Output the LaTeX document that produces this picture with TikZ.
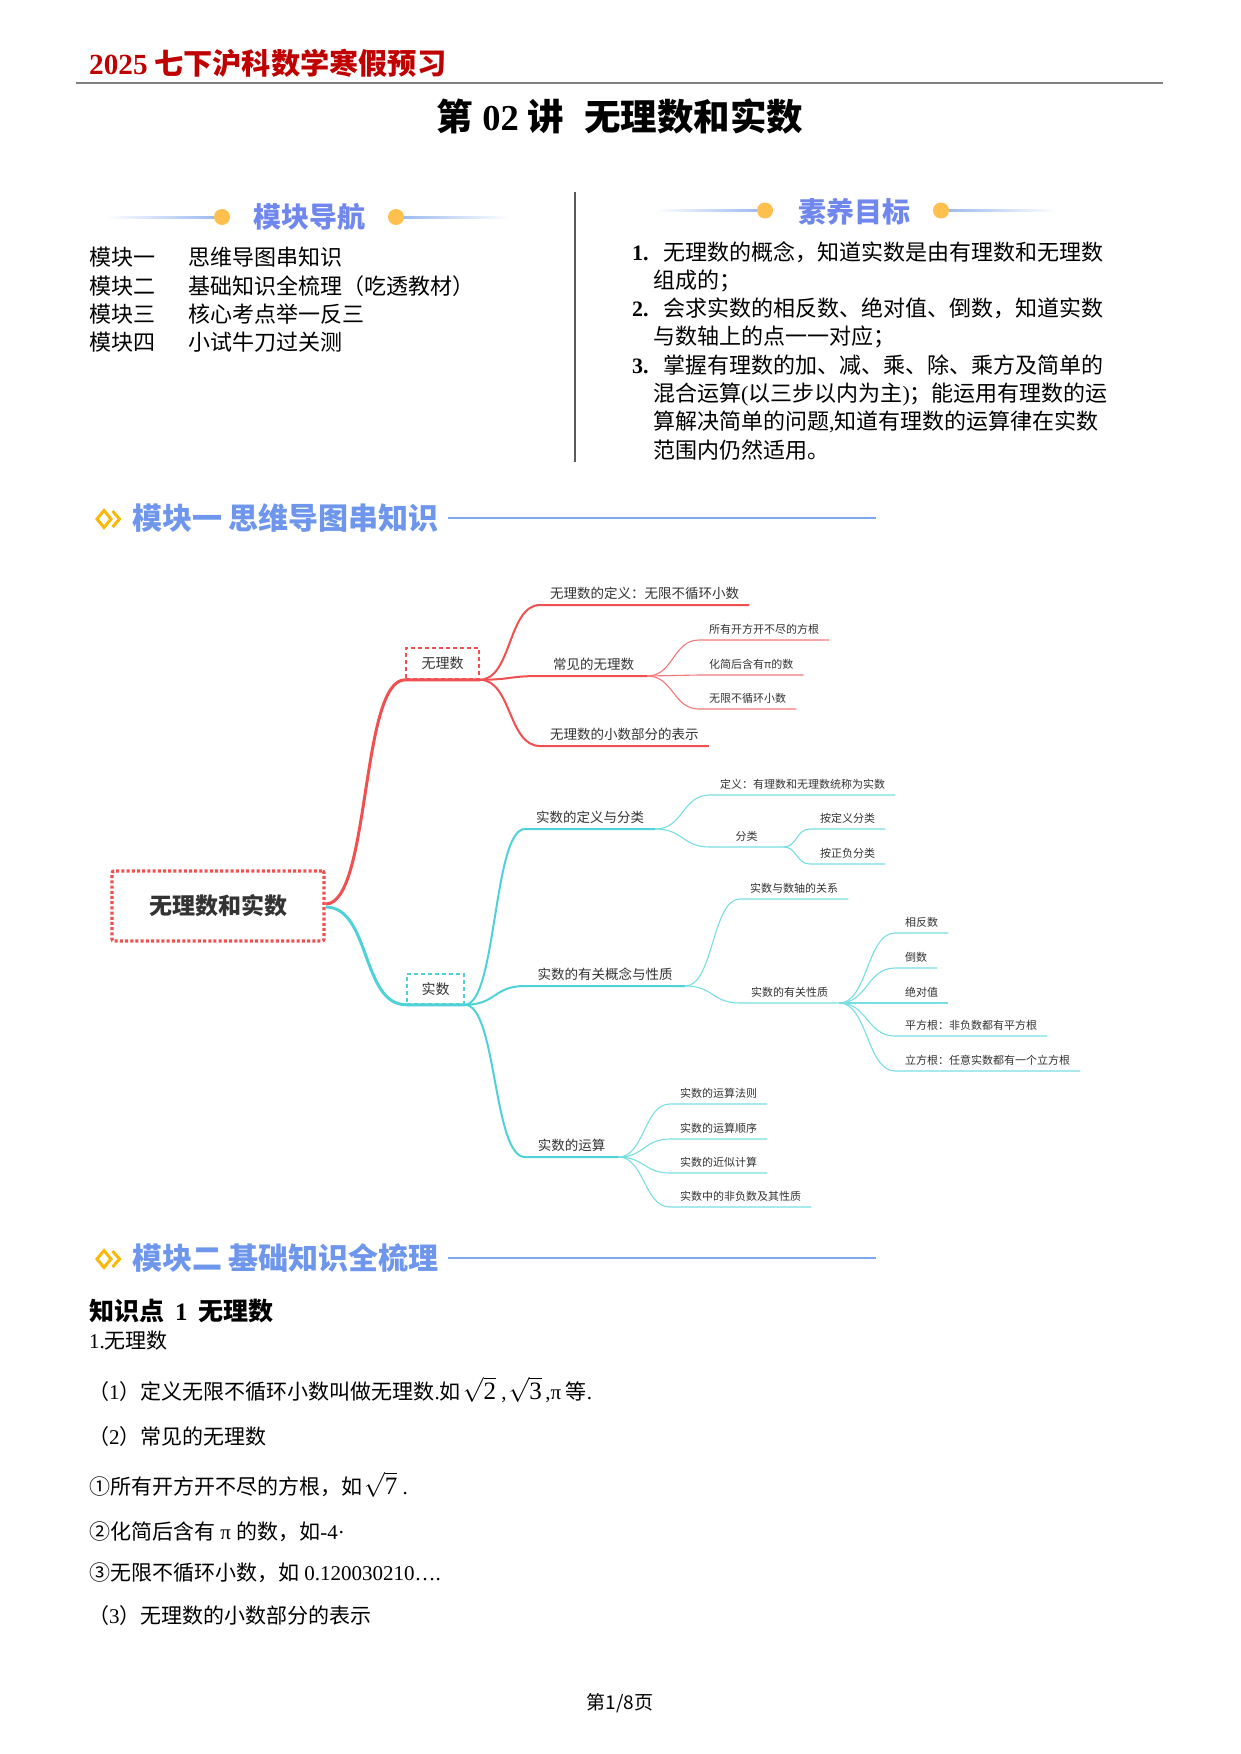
\documentclass[tikz,border=0pt]{standalone}
\usepackage[no-math]{fontspec}
\setmainfont{Noto Sans CJK SC}
\newfontfamily\tnr{Liberation Serif}
\newcommand\setfs[1]{\fontsize{#1}{#1}\selectfont}
\newcommand\bigroot[1]{{\setfs{25}$\sqrt{\hbox{\tnr #1}}$}}
\definecolor{hdrred}{RGB}{192,0,0}
\definecolor{hdrgray}{RGB}{128,128,128}
\definecolor{navblue}{RGB}{112,136,238}
\definecolor{navline}{RGB}{150,182,240}
\definecolor{dotorange}{RGB}{255,192,77}
\definecolor{secblue}{RGB}{110,150,236}
\definecolor{secline}{RGB}{125,168,238}
\definecolor{icongold}{RGB}{250,185,10}
\definecolor{mmred}{RGB}{240,80,80}
\definecolor{mmredl}{RGB}{244,120,120}
\definecolor{mmteal}{RGB}{78,210,216}
\definecolor{mmteall}{RGB}{120,222,226}
\definecolor{mmtext}{RGB}{51,51,51}
\definecolor{divgray}{RGB}{90,90,90}
\tikzset{
  tx/.style={inner sep=0pt, anchor=base west},
  txc/.style={inner sep=0pt, anchor=base},
  topicA/.style={font=\setfs{13.5}, text=mmtext, inner xsep=10pt, inner ysep=5.2pt, text height=11.9pt, text depth=1.6pt, anchor=south west},
  topicB/.style={font=\setfs{11}, text=mmtext, inner xsep=10pt, inner ysep=5.2pt, text height=9.7pt, text depth=1.3pt, anchor=south west},
  redA/.style={draw=mmred, line width=2pt},
  redB/.style={draw=mmredl, line width=1.1pt},
  tealA/.style={draw=mmteal, line width=2pt},
  tealB/.style={draw=mmteall, line width=1.1pt},
  navtext/.style={tx, font=\setfs{22}},
  goaltext/.style={tx, font=\setfs{22}},
  bodytext/.style={tx, font=\setfs{21}},
  sechead/.style={tx, font=\setfs{30}\bfseries, text=secblue},
}
\begin{document}
\begin{tikzpicture}[x=1pt,y=-1pt]
\fill[white] (0,0) rectangle (1241,1754);
\useasboundingbox (0,0) rectangle (1241,1754);

% ---------- header ----------
\node[tx, font=\setfs{29.2}\bfseries, text=hdrred] (hdr) at (89,74) {{\tnr\bfseries 2025} 七下沪科数学寒假预习};
\coordinate (hl) at (76,83);
\coordinate (hr) at (1163,83);
\draw[hdrgray, line width=2pt] (hl) -- (hr);
\node[txc, font=\setfs{36.5}\bfseries] (title) at (620,130) {第\hspace{9pt}{\tnr\bfseries 02}\hspace{9pt}讲\hspace{20pt}无理数和实数};

% ---------- left panel ----------
\shade[left color=white, right color=navline] (106,216) rectangle (222,218.2);
\shade[left color=navline, right color=white] (396,216) rectangle (509,218.2);
\fill[dotorange] (222,217) circle (8pt);
\fill[dotorange] (396,217) circle (8pt);
\node[txc, font=\setfs{28}\bfseries, text=navblue] (navh) at (309,227.5) {模块导航};
\node[navtext] (m1) at (89,265) {模块一};
\node[navtext] (m1t) at (188,265) {思维导图串知识};
\node[navtext] (m2) at (89,294) {模块二};
\node[navtext] (m2t) at (188,294) {基础知识全梳理（吃透教材）};
\node[navtext] (m3) at (89,322) {模块三};
\node[navtext] (m3t) at (188,322) {核心考点举一反三};
\node[navtext] (m4) at (89,350) {模块四};
\node[navtext] (m4t) at (188,350) {小试牛刀过关测};

% divider
\coordinate (dvt) at (575,192);
\coordinate (dvb) at (575,462);
\draw[divgray, line width=1.3pt] (dvt) -- (dvb);

% ---------- right panel ----------
\shade[left color=white, right color=navline] (655,209.5) rectangle (765,211.7);
\shade[left color=navline, right color=white] (941,209.5) rectangle (1057,211.7);
\fill[dotorange] (765,210.5) circle (8pt);
\fill[dotorange] (941,210.5) circle (8pt);
\node[txc, font=\setfs{28}\bfseries, text=navblue] (goalh) at (854,222) {素养目标};
\node[goaltext, font=\setfs{22}\tnr\bfseries] (n1) at (632,260.4) {1.};
\node[goaltext] (g1) at (663,260.4) {无理数的概念，知道实数是由有理数和无理数};
\node[goaltext] (g2) at (653,288.4) {组成的；};
\node[goaltext, font=\setfs{22}\tnr\bfseries] (n2) at (632,316.4) {2.};
\node[goaltext] (g3) at (663,316.4) {会求实数的相反数、绝对值、倒数，知道实数};
\node[goaltext] (g4) at (653,344.4) {与数轴上的点一一对应；};
\node[goaltext, font=\setfs{22}\tnr\bfseries] (n3) at (632,373.4) {3.};
\node[goaltext] (g5) at (663,373.4) {掌握有理数的加、减、乘、除、乘方及简单的};
\node[goaltext] (g6) at (653,401.4) {混合运算{\tnr(}以三步以内为主{\tnr)}；能运用有理数的运};
\node[goaltext] (g7) at (653,429.4) {算解决简单的问题{\tnr,}知道有理数的运算律在实数};
\node[goaltext] (g8) at (653,458.4) {范围内仍然适用。};

% ---------- section 1 heading ----------
\draw[icongold, line width=3pt, line join=miter] (97,519) -- (104,510.5) -- (111,519) -- (104,527.5) -- cycle;
\draw[icongold, line width=3pt] (112.5,511) -- (119.5,519) -- (112.5,527);
\node[sechead] (sec1) at (132,529.8) {模块一\hspace{6pt}思维导图串知识};
\coordinate (s1l) at (448,518);
\coordinate (s1r) at (876,518);
\draw[secline, line width=2pt] (s1l) -- (s1r);

% ---------- mind map ----------
\node[draw=mmred, line width=3.2pt, dash pattern=on 3pt off 2.2pt, rounded corners=2pt,
      minimum width=212pt, minimum height=70pt, inner sep=0pt,
      font=\setfs{23}\bfseries, text=mmtext] (root) at (218,906) {无理数和实数};

\node[draw=mmred, line width=1.5pt, dash pattern=on 4pt off 3pt, minimum width=73pt, minimum height=31pt,
      inner sep=0pt, font=\setfs{14}, text=mmtext] (wl) at (442.5,663.5) {无理数};
\node[draw=mmteal, line width=1.5pt, dash pattern=on 4pt off 3pt, minimum width=57pt, minimum height=30pt,
      inner sep=0pt, font=\setfs{14}, text=mmtext] (ss) at (435.5,989) {实数};

% red topics
\node[topicA] (r1) at (540,605) {无理数的定义：无限不循环小数};
\node[topicA, minimum width=107pt] (r2) at (540,676) {常见的无理数};
\node[topicA] (r3) at (540,746) {无理数的小数部分的表示};
\node[topicB, minimum width=126pt] (r2a) at (699,640) {所有开方开不尽的方根};
\node[topicB] (r2b) at (699,675) {化简后含有π的数};
\node[topicB] (r2c) at (699,709) {无限不循环小数};

% teal topics
\node[topicA, minimum width=130pt] (t1) at (525,829) {实数的定义与分类};
\node[topicA, minimum width=160pt] (t2) at (525,986) {实数的有关概念与性质};
\node[topicA, minimum width=93pt] (t3) at (525,1157) {实数的运算};
\node[topicB, minimum width=180pt] (t1a) at (710,795) {定义：有理数和无理数统称为实数};
\node[topicB, minimum width=73pt] (t1b) at (710,847) {分类};
\node[topicB] (t1b1) at (810,829) {按定义分类};
\node[topicB] (t1b2) at (810,864) {按正负分类};
\node[topicB] (t2a) at (740,899) {实数与数轴的关系};
\node[topicB, minimum width=99pt] (t2b) at (740,1003) {实数的有关性质};
\node[topicB] (t2b1) at (895,933) {相反数};
\node[topicB] (t2b2) at (895,968) {倒数};
\node[topicB] (t2b3) at (895,1003) {绝对值};
\node[topicB] (t2b4) at (895,1036) {平方根：非负数都有平方根};
\node[topicB] (t2b5) at (895,1071) {立方根：任意实数都有一个立方根};
\node[topicB] (t3a) at (670,1104) {实数的运算法则};
\node[topicB] (t3b) at (670,1139) {实数的运算顺序};
\node[topicB] (t3c) at (670,1173) {实数的近似计算};
\node[topicB] (t3d) at (670,1207) {实数中的非负数及其性质};

% connectors
\draw[mmred, line width=3pt] ([yshift=2pt]root.east) .. controls +(45,0) and +(-45,0) .. (wl.south west) -- (wl.south east);
\draw[mmteal, line width=3pt] ([yshift=-1pt]root.east) .. controls +(45,0) and +(-45,0) .. (ss.south west) -- (ss.south east);

\draw[redA] (wl.south east) .. controls +(32,0) and +(-32,0) .. (r1.south west) -- (r1.south east);
\draw[redA] (wl.south east) .. controls +(32,0) and +(-32,0) .. (r2.south west) -- (r2.south east);
\draw[redA] (wl.south east) .. controls +(32,0) and +(-32,0) .. (r3.south west) -- (r3.south east);
\draw[redB] (r2.south east) .. controls +(26,0) and +(-26,0) .. (r2a.south west) -- (r2a.south east);
\draw[redB] (r2.south east) .. controls +(26,0) and +(-26,0) .. (r2b.south west) -- (r2b.south east);
\draw[redB] (r2.south east) .. controls +(26,0) and +(-26,0) .. (r2c.south west) -- (r2c.south east);

\draw[tealA] (ss.south east) .. controls +(32,0) and +(-32,0) .. (t1.south west) -- (t1.south east);
\draw[tealA] (ss.south east) .. controls +(32,0) and +(-32,0) .. (t2.south west) -- (t2.south east);
\draw[tealA] (ss.south east) .. controls +(32,0) and +(-32,0) .. (t3.south west) -- (t3.south east);
\draw[tealB] (t1.south east) .. controls +(28,0) and +(-28,0) .. (t1a.south west) -- (t1a.south east);
\draw[tealB] (t1.south east) .. controls +(28,0) and +(-28,0) .. (t1b.south west) -- (t1b.south east);
\draw[tealB] (t1b.south east) .. controls +(14,0) and +(-14,0) .. (t1b1.south west) -- (t1b1.south east);
\draw[tealB] (t1b.south east) .. controls +(14,0) and +(-14,0) .. (t1b2.south west) -- (t1b2.south east);
\draw[tealB] (t2.south east) .. controls +(28,0) and +(-28,0) .. (t2a.south west) -- (t2a.south east);
\draw[tealB] (t2.south east) .. controls +(28,0) and +(-28,0) .. (t2b.south west) -- (t2b.south east);
\draw[tealB] (t2b.south east) .. controls +(28,0) and +(-28,0) .. (t2b1.south west) -- (t2b1.south east);
\draw[tealB] (t2b.south east) .. controls +(28,0) and +(-28,0) .. (t2b2.south west) -- (t2b2.south east);
\draw[tealB] (t2b.south east) .. controls +(28,0) and +(-28,0) .. (t2b3.south west) -- (t2b3.south east);
\draw[tealB] (t2b.south east) .. controls +(28,0) and +(-28,0) .. (t2b4.south west) -- (t2b4.south east);
\draw[tealB] (t2b.south east) .. controls +(28,0) and +(-28,0) .. (t2b5.south west) -- (t2b5.south east);
\draw[tealB] (t3.south east) .. controls +(26,0) and +(-26,0) .. (t3a.south west) -- (t3a.south east);
\draw[tealB] (t3.south east) .. controls +(26,0) and +(-26,0) .. (t3b.south west) -- (t3b.south east);
\draw[tealB] (t3.south east) .. controls +(26,0) and +(-26,0) .. (t3c.south west) -- (t3c.south east);
\draw[tealB] (t3.south east) .. controls +(26,0) and +(-26,0) .. (t3d.south west) -- (t3d.south east);

% ---------- section 2 heading ----------
\draw[icongold, line width=3pt, line join=miter] (97,1259) -- (104,1250.5) -- (111,1259) -- (104,1267.5) -- cycle;
\draw[icongold, line width=3pt] (112.5,1251) -- (119.5,1259) -- (112.5,1267);
\node[sechead] (sec2) at (132,1269.8) {模块二\hspace{6pt}基础知识全梳理};
\coordinate (s2l) at (448,1258);
\coordinate (s2r) at (876,1258);
\draw[secline, line width=2pt] (s2l) -- (s2r);

% ---------- body ----------
\node[tx, font=\setfs{25}\bfseries] (kp) at (89,1320) {知识点\hspace{11pt}{\tnr\bfseries 1}\hspace{11pt}无理数};
\node[tx, font=\setfs{21}] (b0) at (89,1348.6) {{\tnr 1.}无理数};
\node[bodytext] (b1) at (88,1399) {（{\tnr 1}）定义无限不循环小数叫做无理数{\tnr .}如\hspace{2pt}\bigroot{2}{\tnr\ ,}\hspace{2pt}\bigroot{3}{\tnr\,,π} 等{\tnr .}};
\node[bodytext] (b2) at (88,1444) {（{\tnr 2}）常见的无理数};
\node[bodytext] (b3) at (89,1494) {①所有开方开不尽的方根，如\hspace{2pt}\bigroot{7}{\tnr\ .}};
\node[bodytext] (b4) at (89,1539) {②化简后含有{\tnr\ π }的数，如{\tnr -4·}};
\node[bodytext] (b5) at (89,1580) {③无限不循环小数，如{\tnr\ 0.120030210….}};
\node[bodytext] (b6) at (88,1623) {（{\tnr 3}）无理数的小数部分的表示};

% ---------- footer ----------
\node[txc, font=\setfs{19}] (foot) at (620,1709) {第1/8页};
\end{tikzpicture}
\end{document}
